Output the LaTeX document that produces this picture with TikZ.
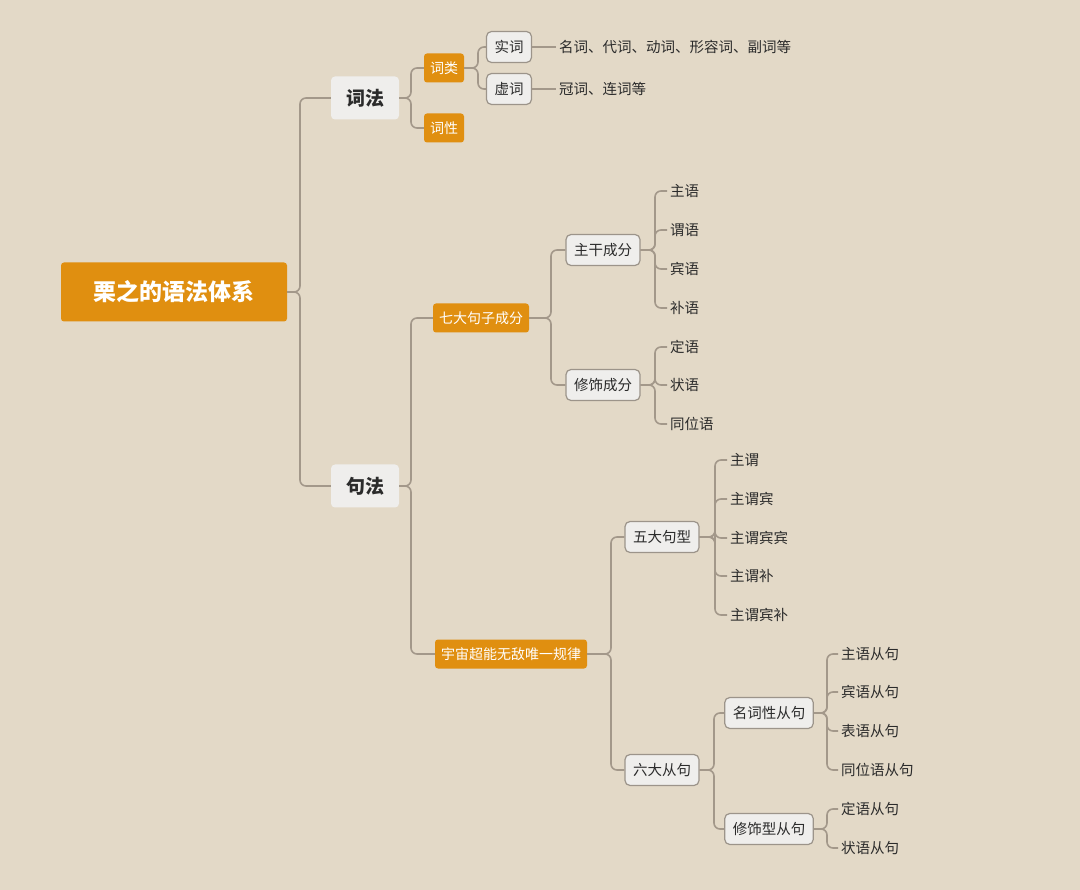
\documentclass[tikz,border=0pt]{standalone}
\usepackage{fontspec}
\newfontfamily\cjk{Noto Sans CJK SC}
\usepackage{tikz}
\definecolor{bg}{HTML}{E3D9C7}
\definecolor{accent}{HTML}{E08F10}
\definecolor{wire}{HTML}{A3988A}
\definecolor{boxbg}{HTML}{EFEEEC}
\definecolor{boxrim}{HTML}{9C948A}
\definecolor{ink}{HTML}{2B2B2B}
\tikzset{
  link/.style={draw=wire, line width=1.6pt, rounded corners=6pt},
  root/.style={fill=accent, rounded corners=3pt, minimum width=226pt, minimum height=59pt,
    text=white, font=\cjk\fontsize{23}{26}\selectfont\bfseries},
  main/.style={fill=boxbg, rounded corners=4pt, minimum width=68pt, minimum height=43pt,
    text=ink, font=\cjk\fontsize{19}{22}\selectfont\bfseries},
  hot/.style={fill=accent, rounded corners=3pt, minimum height=29pt, inner xsep=6pt,
    text=white, font=\cjk\fontsize{14}{17}\selectfont},
  sub/.style={fill=boxbg, draw=boxrim, line width=1.2pt, rounded corners=5pt, minimum height=31pt,
    inner xsep=8pt, text=ink, font=\cjk\fontsize{14.5}{17}\selectfont},
  leaf/.style={anchor=west, inner sep=3pt, text=ink, font=\cjk\fontsize{14.5}{17}\selectfont},
}
\begin{document}
\begin{tikzpicture}[x=1pt, y=-1pt]
  \fill[bg] (0,0) rectangle (1080,890);
  \useasboundingbox (0,0) rectangle (1080,890);

  % main branches
  \node[root] (sys) at (174,292) {栗之的语法体系};
  \node[main] (cifa) at (365,98) {词法};
  \node[main] (jufa) at (365,486) {句法};
  \draw[link] (sys.east) -- (300,292) |- (cifa.west);
  \draw[link] (sys.east) -- (300,292) |- (jufa.west);

  % 词法
  \node[hot] (cilei) at (444,68) {词类};
  \node[hot] (cixing) at (444,128) {词性};
  \draw[link] (cifa.east) -- (411,98) |- (cilei.west);
  \draw[link] (cifa.east) -- (411,98) |- (cixing.west);
  \node[sub] (shici) at (509,47) {实词};
  \node[sub] (xuci) at (509,89) {虚词};
  \draw[link] (cilei.east) -- (478,68) |- (shici.west);
  \draw[link] (cilei.east) -- (478,68) |- (xuci.west);
  \node[leaf] (shilist) at (556,47) {名词、代词、动词、形容词、副词等};
  \node[leaf] (xulist) at (556,89) {冠词、连词等};
  \draw[link] (shici.east) -- (shilist.west);
  \draw[link] (xuci.east) -- (xulist.west);

  % 句法
  \node[hot] (qida) at (481,318) {七大句子成分};
  \node[hot] (guilv) at (511,654) {宇宙超能无敌唯一规律};
  \draw[link] (jufa.east) -- (411,486) |- (qida.west);
  \draw[link] (jufa.east) -- (411,486) |- (guilv.west);

  \node[sub] (zhugan) at (603,250) {主干成分};
  \node[sub] (xiushi) at (603,385) {修饰成分};
  \draw[link] (qida.east) -- (551,318) |- (zhugan.west);
  \draw[link] (qida.east) -- (551,318) |- (xiushi.west);
  \foreach \n/\y/\t in {zy/191/主语, wy/230/谓语, by/269/宾语, buy/308/补语} {
    \node[leaf] (\n) at (667,\y) {\t};
    \draw[link] (zhugan.east) -- (655,250) |- (\n.west);
  }
  \foreach \n/\y/\t in {dy/347/定语, zhy/385/状语, twy/424/同位语} {
    \node[leaf] (\n) at (667,\y) {\t};
    \draw[link] (xiushi.east) -- (655,385) |- (\n.west);
  }

  \node[sub] (wuda) at (662,537) {五大句型};
  \node[sub] (liuda) at (662,770) {六大从句};
  \draw[link] (guilv.east) -- (611,654) |- (wuda.west);
  \draw[link] (guilv.east) -- (611,654) |- (liuda.west);
  \foreach \n/\y/\t in {jx1/460/主谓, jx2/499/主谓宾, jx3/538/主谓宾宾, jx4/576/主谓补, jx5/615/主谓宾补} {
    \node[leaf] (\n) at (727,\y) {\t};
    \draw[link] (wuda.east) -- (715,537) |- (\n.west);
  }

  \node[sub] (mingci) at (769,713) {名词性从句};
  \node[sub] (xiushicj) at (769,829) {修饰型从句};
  \draw[link] (liuda.east) -- (714,770) |- (mingci.west);
  \draw[link] (liuda.east) -- (714,770) |- (xiushicj.west);
  \foreach \n/\y/\t in {cj1/654/主语从句, cj2/692/宾语从句, cj3/731/表语从句, cj4/770/同位语从句} {
    \node[leaf] (\n) at (838,\y) {\t};
    \draw[link] (mingci.east) -- (827,713) |- (\n.west);
  }
  \foreach \n/\y/\t in {cj5/809/定语从句, cj6/848/状语从句} {
    \node[leaf] (\n) at (838,\y) {\t};
    \draw[link] (xiushicj.east) -- (827,829) |- (\n.west);
  }
\end{tikzpicture}
\end{document}
